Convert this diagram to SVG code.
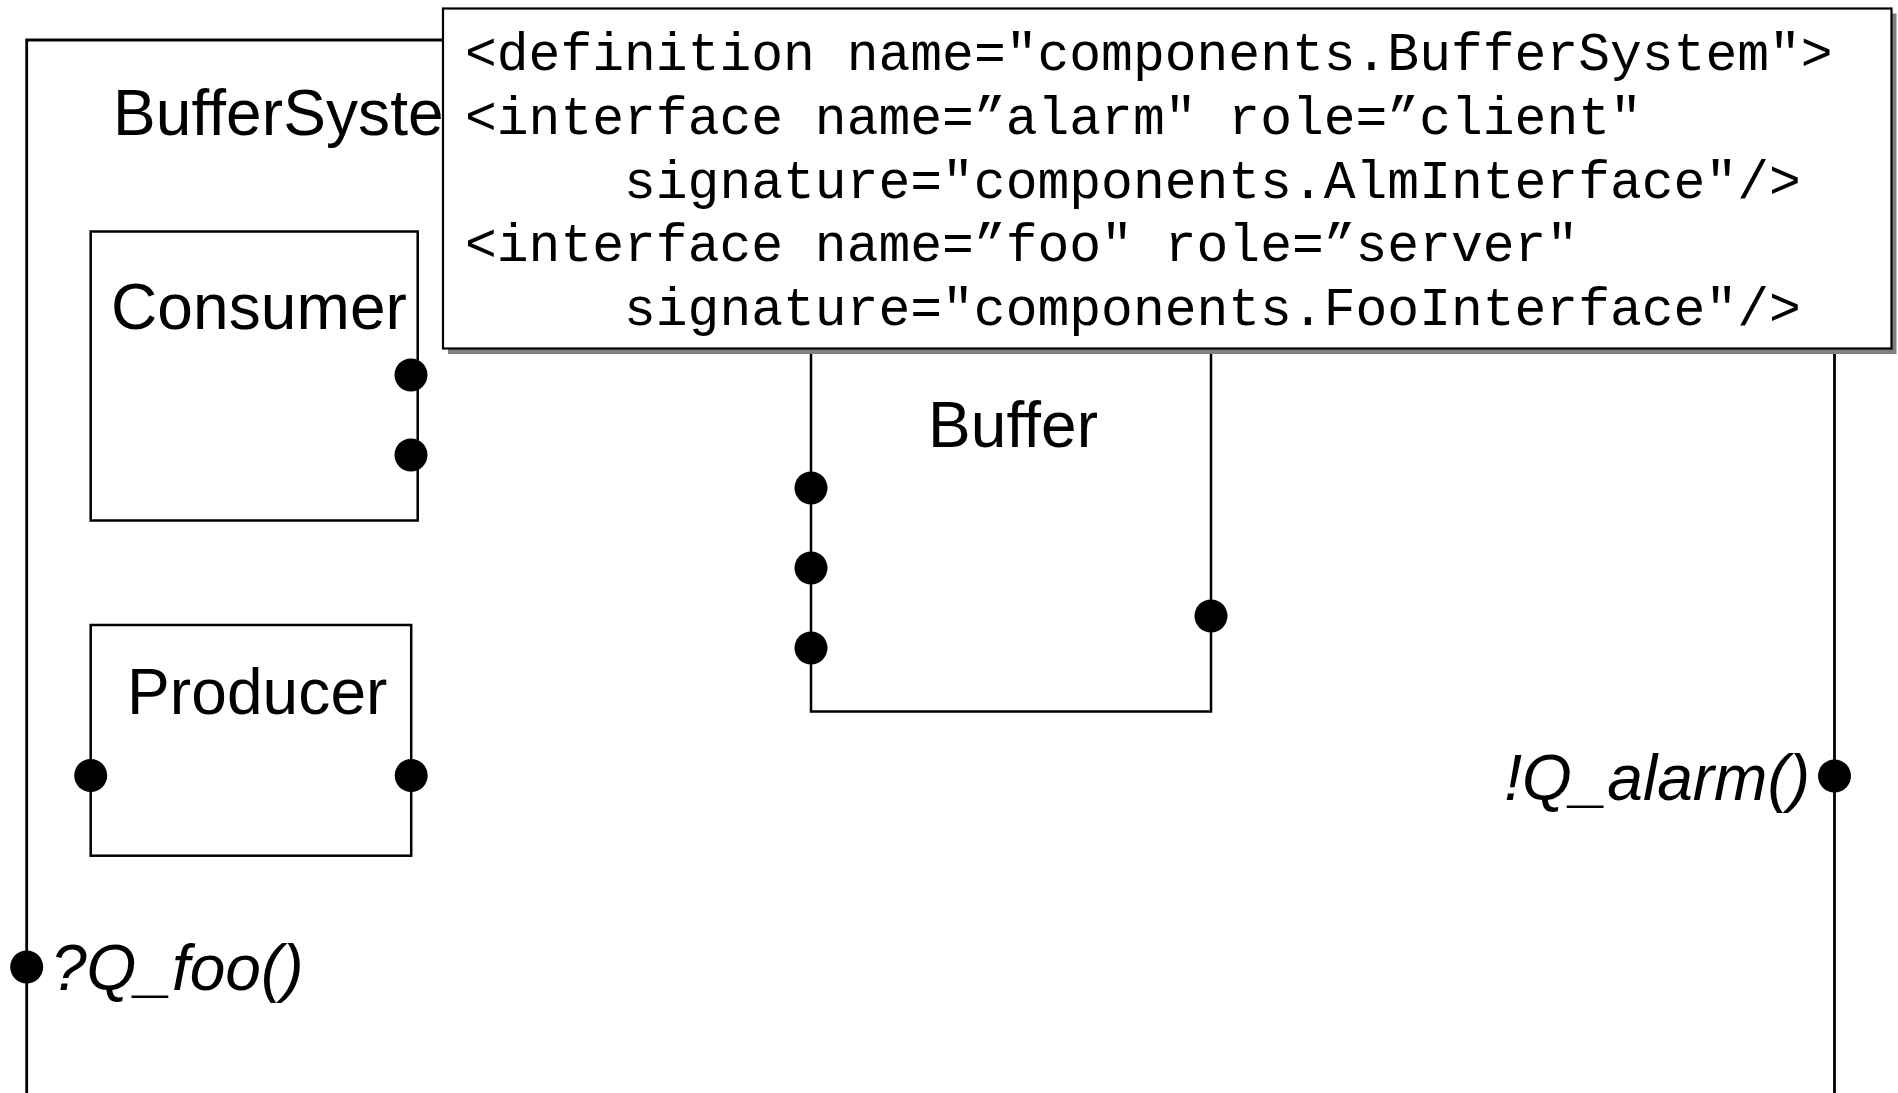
<svg xmlns="http://www.w3.org/2000/svg" width="1898" height="1093" viewBox="0 0 1898 1093">
  <style>
    .box { fill: #fff; stroke: #000; stroke-width: 2.5; }
    .frame { fill: none; stroke: #000; stroke-width: 2.8; }
    .port { fill: #000; }
    .name { font-family: "Liberation Sans", Arial, sans-serif; font-size: 64px; fill: #000; font-variant-ligatures: none; font-feature-settings: "liga" 0; letter-spacing: 0.1px; }
    .op { font-family: "Liberation Sans", Arial, sans-serif; font-size: 64px; font-style: italic; fill: #000; }
    .code { font-family: "Courier New", "Liberation Mono", monospace; font-size: 53px; fill: #000; white-space: pre; }
  </style>
  <defs>
    <circle id="portDot" r="16.5"/>
  </defs>
  <rect width="1898" height="1093" fill="#fff"/>

  <!-- composite component frame -->
  <g id="BufferSystem">
    <path class="frame" d="M26.7,1100 V40 H1834.5 V1100"/>
    <text class="name" x="113" y="135">BufferSystem</text>
    <use href="#portDot" class="port" x="1834.5" y="776"/>
    <use href="#portDot" class="port" x="26.7" y="967"/>
    <text class="op" x="1810" y="800" text-anchor="end">!Q_alarm()</text>
    <text class="op" x="51" y="990">?Q_foo()</text>
  </g>

  <g id="Consumer">
    <rect class="box" x="90.7" y="231.5" width="327" height="289"/>
    <text class="name" x="111" y="329">Consumer</text>
    <use href="#portDot" class="port" x="411" y="375"/>
    <use href="#portDot" class="port" x="411" y="455"/>
  </g>

  <g id="Producer">
    <rect class="box" x="90.7" y="625" width="320.5" height="230.7"/>
    <text class="name" x="127" y="714">Producer</text>
    <use href="#portDot" class="port" x="90.7" y="775.5"/>
    <use href="#portDot" class="port" x="411.2" y="775.5"/>
  </g>

  <g id="Buffer">
    <rect class="box" x="811" y="300" width="400" height="411.5"/>
    <text class="name" x="928" y="447">Buffer</text>
    <use href="#portDot" class="port" x="811" y="488"/>
    <use href="#portDot" class="port" x="811" y="568"/>
    <use href="#portDot" class="port" x="811" y="648"/>
    <use href="#portDot" class="port" x="1211" y="616"/>
  </g>

  <g id="connectors"/>

  <!-- XML definition note with drop shadow -->
  <g id="definition">
    <rect x="448" y="13.5" width="1448.5" height="340.5" fill="#808080"/>
    <rect x="443" y="8.5" width="1448.5" height="340" fill="#fff" stroke="#000" stroke-width="2.2"/>
    <text class="code" x="465" y="70">&lt;definition name="components.BufferSystem"&gt;</text>
    <text class="code" x="465" y="133.8">&lt;interface name=”alarm" role=”client"</text>
    <text class="code" x="624" y="197.6">signature="components.AlmInterface"/&gt;</text>
    <text class="code" x="465" y="261.4">&lt;interface name=”foo" role=”server"</text>
    <text class="code" x="624" y="325.2">signature="components.FooInterface"/&gt;</text>
  </g>
</svg>
